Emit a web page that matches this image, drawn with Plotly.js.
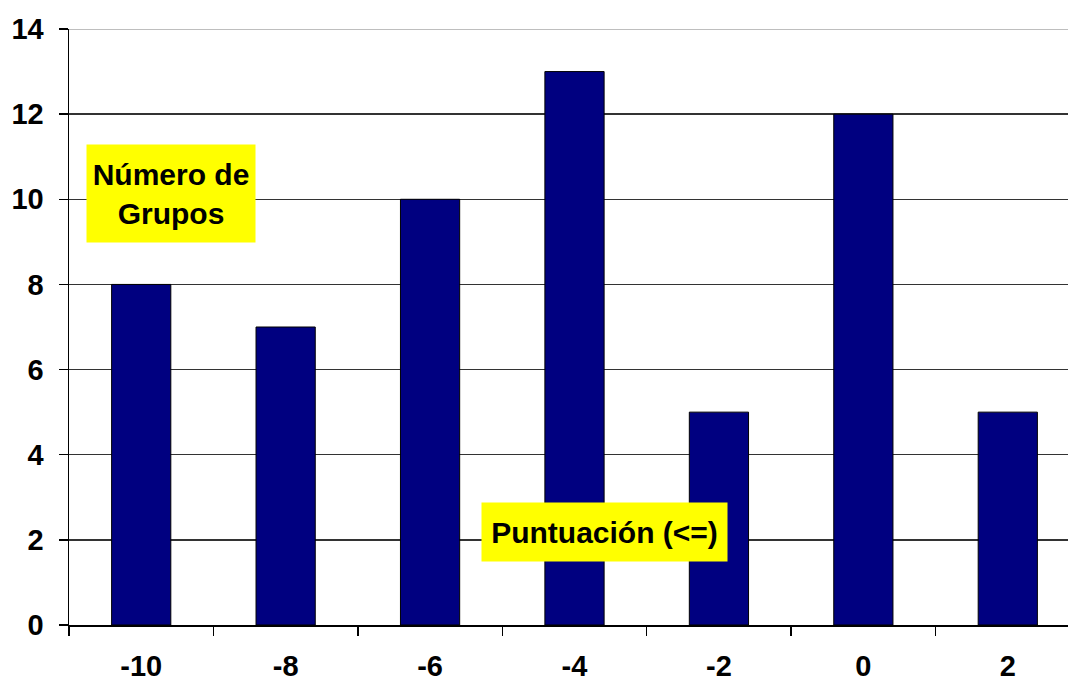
<!DOCTYPE html>
<html>
<head>
<meta charset="utf-8">
<script src="https://cdn.plot.ly/plotly-3.0.1.min.js"></script>
<style>
html,body{margin:0;padding:0;overflow:hidden;background:#fff;}
#chart{width:1085px;height:682px;}
</style>
</head>
<body>
<div id="chart"></div>
<script>
const categories = ["-10", "-8", "-6", "-4", "-2", "0", "2"];
const groupCounts = [8, 7, 10, 13, 5, 12, 5];
const yTicks = [0, 2, 4, 6, 8, 10, 12, 14];
const yLabel = "Número de<br>Grupos";
const xLabel = "Puntuación (<=)";

const font = {family: "Liberation Sans, Arial, sans-serif", size: 29, color: "#000"};
const boldFont = Object.assign({}, font, {weight: "bold"});

const trace = {
  type: "bar",
  x: categories,
  y: groupCounts,
  marker: {color: "#000080", line: {color: "#000", width: 1}},
  hoverinfo: "x+y"
};

const layout = {
  width: 1085,
  height: 682,
  margin: {l: 69, r: 5, t: 29, b: 57},
  paper_bgcolor: "#fff",
  plot_bgcolor: "#fff",
  bargap: 0.59,
  showlegend: false,
  font: font,
  xaxis: {
    type: "category",
    tickson: "boundaries",
    ticks: "outside",
    ticklen: 9,
    tickwidth: 1.5,
    tickcolor: "#000",
    showgrid: false,
    showline: true,
    linecolor: "#000",
    linewidth: 1.5,
    tickfont: boldFont,
    ticklabelstandoff: 15,
    fixedrange: true
  },
  yaxis: {
    range: [0, 14],
    tickvals: yTicks,
    ticktext: yTicks.map(String),
    ticks: "outside",
    ticklen: 9,
    tickwidth: 1.5,
    tickcolor: "#000",
    showgrid: true,
    gridcolor: "#333",
    gridwidth: 1.3,
    showline: true,
    linecolor: "#000",
    linewidth: 1.5,
    zeroline: false,
    tickfont: boldFont,
    ticklabelstandoff: 9,
    fixedrange: true
  },
  shapes: [
    {type: "line", xref: "paper", yref: "y", x0: 0, x1: 1, y0: 14, y1: 14,
     line: {color: "#a8a8a8", width: 1.5}, layer: "above"}
  ],
  annotations: [
    {text: yLabel, xref: "paper", yref: "paper", x: 0.1009, y: 0.724,
     xanchor: "center", yanchor: "middle", showarrow: false,
     bgcolor: "#ffff00", borderpad: 0, width: 168, height: 97,
     font: Object.assign({}, boldFont, {size: 30})},
    {text: xLabel, xref: "paper", yref: "paper", x: 0.530, y: 0.156,
     xanchor: "center", yanchor: "middle", showarrow: false,
     bgcolor: "#ffff00", borderpad: 0, width: 245, height: 58,
     font: Object.assign({}, boldFont, {size: 30})}
  ]
};

Plotly.newPlot("chart", [trace], layout, {displayModeBar: false, staticPlot: true});
</script>
</body>
</html>
